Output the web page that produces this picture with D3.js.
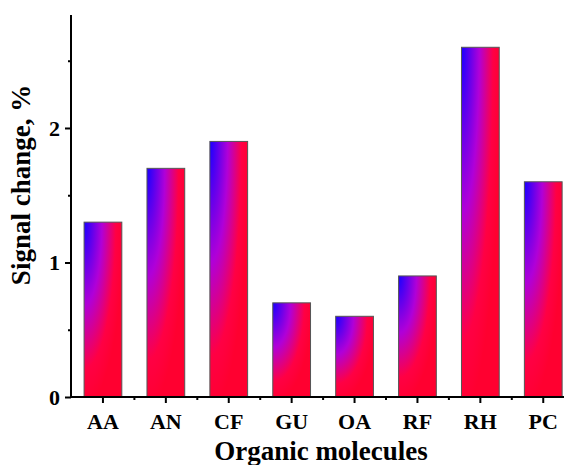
<!DOCTYPE html>
<html><head><meta charset="utf-8">
<script src="https://cdn.jsdelivr.net/npm/d3@7"></script>
<style>body{margin:0;background:#fff}svg{display:block}</style>
</head><body>
<svg id="c" width="564" height="465"></svg>
<script>
const categories = ["AA","AN","CF","GU","OA","RF","RH","PC"];
const values = [1.3, 1.7, 1.9, 0.7, 0.6, 0.9, 2.6, 1.6];
const yTicks = [0, 1, 2];
const yMinorTicks = [0.5, 1.5, 2.5];
const yLabel = "Signal change, %";
const xLabel = "Organic molecules";

const svg = d3.select("#c");
const font = "'Liberation Serif','Times New Roman',serif";

const x = d3.scaleBand().domain(categories).range([71.5, 574.7]).paddingInner(0.4).paddingOuter(0.2);
const y = d3.scaleLinear().domain([0, 2.84]).range([397, 15]);

const defs = svg.append("defs");
const grad = defs.append("radialGradient").attr("id","g")
  .attr("cx",0).attr("cy",0).attr("fx",0).attr("fy",0).attr("r",1.05);
grad.append("stop").attr("offset",0).attr("stop-color","#1a00ff");
grad.append("stop").attr("offset",0.45).attr("stop-color","#b000d8");
grad.append("stop").attr("offset",0.8).attr("stop-color","#ff0044");
grad.append("stop").attr("offset",1).attr("stop-color","#ff0030");

svg.selectAll("rect.bar").data(values).join("rect").attr("class","bar")
  .attr("x",(d,i)=>x(categories[i]))
  .attr("width",x.bandwidth())
  .attr("y",d=>y(d))
  .attr("height",d=>y(0)-y(d))
  .attr("fill","url(#g)")
  .attr("stroke","#555").attr("stroke-width",1);

// y axis
const ya = svg.append("g").attr("transform","translate(71,0)")
  .call(d3.axisLeft(y).tickValues(yTicks).tickFormat(d3.format("d")).tickSize(6).tickPadding(5));
const yam = svg.append("g").attr("transform","translate(71,0)")
  .call(d3.axisLeft(y).tickValues(yMinorTicks).tickFormat("").tickSize(3));
yam.select(".domain").remove();

// x axis
const xa = svg.append("g").attr("transform","translate(0,397)")
  .call(d3.axisBottom(x).tickSize(6));
const bounds = categories.map((c,i)=>x(c)-x.step()*x.paddingInner()/2).slice(1);
const xam = svg.append("g").attr("transform","translate(0,397)");
xam.selectAll("line").data(bounds).join("line")
  .attr("x1",d=>d).attr("x2",d=>d).attr("y1",0).attr("y2",3)
  .attr("stroke","#000").attr("stroke-width",2);

[ya, yam, xa].forEach(g=>{
  g.selectAll("path.domain").attr("stroke","#000").attr("stroke-width",2);
  g.selectAll(".tick line").attr("stroke","#000").attr("stroke-width",2);
  g.selectAll("text").attr("font-family",font).attr("font-weight","bold")
    .attr("font-size",22).attr("fill","#000");
});
xa.selectAll(".tick text").attr("y",32).attr("dy",0);
ya.selectAll(".tick text").attr("dy","0.34em");
ya.select(".domain").attr("d","M0,15V397");
xa.select(".domain").attr("d","M71,0H574.7");

svg.append("text").attr("transform","translate(30,185) rotate(-90)")
  .attr("text-anchor","middle").attr("font-family",font).attr("font-weight","bold")
  .attr("font-size",27).text(yLabel);
svg.append("text").attr("x",321).attr("y",460)
  .attr("text-anchor","middle").attr("font-family",font).attr("font-weight","bold")
  .attr("font-size",27).text(xLabel);
</script>
</body></html>
